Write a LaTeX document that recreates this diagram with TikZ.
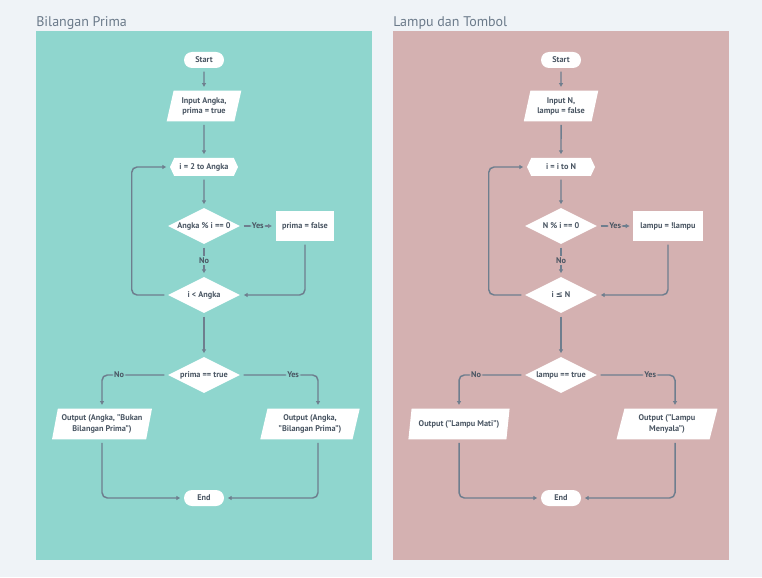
\documentclass[tikz,border=0pt]{standalone}
\usepackage{fontspec}
\setmainfont{PT Sans}
\newfontfamily\symfont{DejaVu Sans}
\usetikzlibrary{
  calc,positioning,
  arrows,arrows.meta,
  shapes.geometric,shapes.misc,shapes.symbols
}

\definecolor{bgc}{HTML}{EFF3F7}
\definecolor{panelA}{HTML}{8FD6CE}
\definecolor{panelB}{HTML}{D4B1B1}
\definecolor{linec}{HTML}{6E7E8E}
\definecolor{textc}{HTML}{4A5663}
\definecolor{titlec}{HTML}{6B7A8A}

\tikzset{
  box/.style={fill=white,draw=none,text=textc,inner sep=1pt,align=center,
    font=\fontsize{6.2}{7.6}\selectfont\bfseries},
  term/.style={box,rounded rectangle,minimum width=32pt,minimum height=12pt},
  io/.style={box,trapezium,trapezium left angle=75,trapezium right angle=105,
    trapezium stretches,minimum height=23pt},
  prep/.style={box,signal,signal to=west and east,signal pointer angle=130,
    minimum width=51pt,minimum height=13.5pt},
  dec/.style={box,diamond,aspect=2,inner sep=0pt,minimum width=54pt,minimum height=27pt},
  proc/.style={box,rectangle,minimum height=22.5pt},
  conn/.style={draw=linec,line width=1.1pt,rounded corners=4pt,
    shorten <=2.5pt,shorten >=2.5pt,-{Latex[length=3pt,width=3.5pt]}},
  lbl/.style={fill=#1,inner sep=1pt,text=textc,font=\fontsize{6.2}{7.6}\selectfont\bfseries},
  title/.style={anchor=base west,inner sep=0pt,text=titlec,font=\fontsize{10.5}{12}\selectfont}
}

\begin{document}
\begin{tikzpicture}[x=0.75pt,y=-0.75pt]

\fill[bgc] (0,0) rectangle (762,577);
\useasboundingbox (0,0) rectangle (762,577);

% Bilangan Prima
\node[title] (tA) at (36,27) {Bilangan Prima};
\fill[panelA] (36,31) rectangle (372,560);

\node[term] (startA) at (204,60) {Start};
\node[io,minimum width=56pt] (inA) at (204,106) {Input Angka,\\prima = true};
\node[prep] (forA) at (204,167) {i = 2 to Angka};
\node[dec] (modA) at (204,226) {Angka \% i == 0};
\node[proc,minimum width=44pt] (setA) at (305,226) {prima = false};
\node[dec] (loopA) at (204,295) {i < Angka};
\node[dec] (chkA) at (204,375) {prima == true};
\node[io,minimum width=75pt] (noA) at (102,424) {Output (Angka, "Bukan\\Bilangan Prima")};
\node[io,minimum width=75pt] (yesA) at (310,424) {Output (Angka,\\"Bilangan Prima")};
\node[term] (endA) at (204,498) {End};

\draw[conn] (startA) -- (inA);
\draw[conn] (inA) -- (forA);
\draw[conn] (forA) -- (modA);
\draw[conn] (modA) -- node[lbl=panelA]{Yes} (setA);
\draw[conn] (modA) -- node[lbl=panelA]{No} (loopA);
\draw[conn] (setA.south) |- (loopA.east);
\draw[conn] (loopA.west) -- ++(-36,0) |- (forA.west);
\draw[conn] (loopA) -- (chkA);
\draw[conn] (chkA.west) -| node[lbl=panelA,pos=0.37]{No} (noA.north);
\draw[conn] (chkA.east) -| node[lbl=panelA,pos=0.34]{Yes} ([xshift=6pt]yesA.north);
\draw[conn] (noA.south) |- (endA.west);
\draw[conn] ([xshift=6pt]yesA.south) |- (endA.east);

% Lampu dan Tombol
\node[title] (tB) at (393,27) {Lampu dan Tombol};
\fill[panelB] (393,31) rectangle (729,560);

\node[term] (startB) at (561,60) {Start};
\node[io,minimum width=56pt] (inB) at (561,106) {Input N,\\lampu = false};
\node[prep] (forB) at (561,167) {i = i to N};
\node[dec] (modB) at (561,226) {N \% i == 0};
\node[proc,minimum width=52pt] (setB) at (668,226) {lampu = !lampu};
\node[dec] (loopB) at (561,295) {i {\symfont ≤} N};
\node[dec] (chkB) at (561,375) {lampu == true};
\node[io,minimum width=76pt] (noB) at (459,424) {Output ("Lampu Mati")};
\node[io,minimum width=76pt] (yesB) at (667,424) {Output ("Lampu\\Menyala")};
\node[term] (endB) at (561,498) {End};

\draw[conn] (startB) -- (inB);
\draw[conn] (inB) -- (forB);
\draw[conn] (forB) -- (modB);
\draw[conn] (modB) -- node[lbl=panelB]{Yes} (setB);
\draw[conn] (modB) -- node[lbl=panelB]{No} (loopB);
\draw[conn] (setB.south) |- (loopB.east);
\draw[conn] (loopB.west) -- ++(-36,0) |- (forB.west);
\draw[conn] (loopB) -- (chkB);
\draw[conn] (chkB.west) -| node[lbl=panelB,pos=0.37]{No} (noB.north);
\draw[conn] (chkB.east) -| node[lbl=panelB,pos=0.34]{Yes} ([xshift=6pt]yesB.north);
\draw[conn] (noB.south) |- (endB.west);
\draw[conn] ([xshift=6pt]yesB.south) |- (endB.east);

\end{tikzpicture}
\end{document}
